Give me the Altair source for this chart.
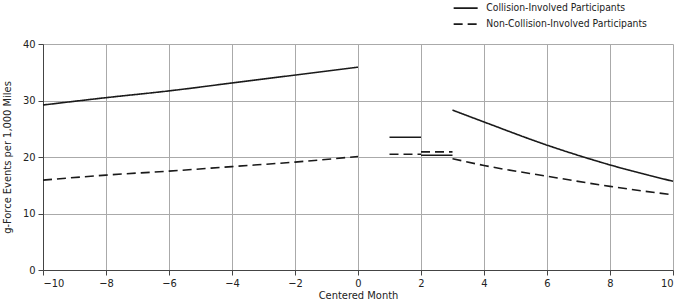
import altair as alt
import pandas as pd

# Collision-involved (solid)
col_pre_x = [-10, -8, -6, -4, -2, 0]
col_pre_y = [29.2, 30.5, 31.7, 33.1, 34.5, 35.9]
col_m1_x = [1, 2]
col_m1_y = [23.5, 23.5]
col_m2_x = [2, 3]
col_m2_y = [20.3, 20.3]
col_post_x = [3, 4, 6, 8, 10]
col_post_y = [28.3, 26.2, 22.1, 18.6, 15.7]

# Non-collision-involved (dashed)
non_pre_x = [-10, -8, -6, -4, -2, 0]
non_pre_y = [15.9, 16.8, 17.5, 18.3, 19.1, 20.1]
non_m1_x = [1, 2]
non_m1_y = [20.5, 20.5]
non_m2_x = [2, 3]
non_m2_y = [20.9, 20.9]
non_post_x = [3, 4, 6, 8, 10]
non_post_y = [19.7, 18.5, 16.6, 14.8, 13.3]

S1 = "Collision-Involved Participants"
S2 = "Non-Collision-Involved Participants"

rows = []
def add(series, seg, xs, ys):
    for x, y in zip(xs, ys):
        rows.append({"series": series, "segment": f"{series}-{seg}", "month": x, "value": y})

add(S1, "pre", col_pre_x, col_pre_y)
add(S1, "m1", col_m1_x, col_m1_y)
add(S1, "m2", col_m2_x, col_m2_y)
add(S1, "post", col_post_x, col_post_y)
add(S2, "pre", non_pre_x, non_pre_y)
add(S2, "m1", non_m1_x, non_m1_y)
add(S2, "m2", non_m2_x, non_m2_y)
add(S2, "post", non_post_x, non_post_y)
df = pd.DataFrame(rows)

FONT = "DejaVu Sans Condensed, Liberation Sans Narrow, Roboto Condensed, Roboto"

chart = alt.Chart(df).mark_line(strokeWidth=1.6, color="#1a1a1a", interpolate="monotone").encode(
    x=alt.X("month:Q", title="Centered Month",
            scale=alt.Scale(domain=[-10, 10], nice=False),
            axis=alt.Axis(values=list(range(-10, 11, 2)), format="d")),
    y=alt.Y("value:Q", title="g-Force Events per 1,000 Miles",
            scale=alt.Scale(domain=[0, 40], nice=False),
            axis=alt.Axis(values=[0, 10, 20, 30, 40])),
    strokeDash=alt.StrokeDash("series:N", title=None,
        scale=alt.Scale(domain=[S1, S2], range=[[1, 0], [9, 5]]),
        legend=alt.Legend(orient="none", legendX=417.5, legendY=-41,
                          symbolType="M-4,0L4,0", symbolSize=36, symbolStrokeWidth=1.6,
                          symbolStrokeColor="#1a1a1a", labelFont=FONT, labelFontSize=10.3,
                          labelColor="#222", rowPadding=5, labelOffset=15.5,
                          labelLimit=400)),
    detail="segment:N",
).properties(
    width=630, height=226,
    background="white",
    autosize=alt.AutoSizeParams(type="none"),
    padding={"left": 43, "top": 44, "right": 7, "bottom": 32},
).configure_axis(
    grid=True, gridColor="#aaaaaa", gridWidth=1,
    domainColor="#444444", tickColor="#444444", tickSize=5,
    labelFont=FONT, labelFontSize=11, labelColor="#222",
    titleFont=FONT, titleFontSize=11, titleColor="#222", titleFontWeight="normal",
).configure_axisX(titlePadding=1, labelPadding=2
).configure_axisY(titlePadding=10, labelPadding=3
).configure_view(stroke=None)

chart.save("out.html", embed_options={"renderer": "svg", "actions": False})
